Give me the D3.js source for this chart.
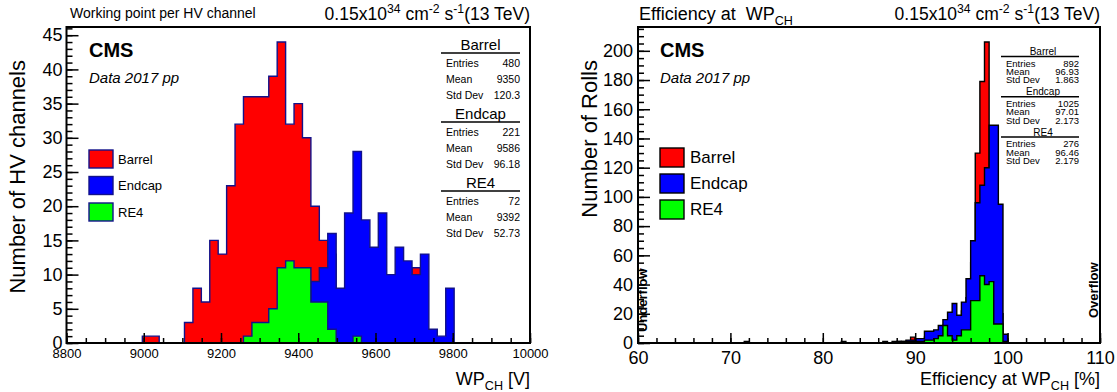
<!DOCTYPE html>
<html>
<head>
<meta charset="utf-8">
<script src="https://cdn.jsdelivr.net/npm/d3@7"></script>
<style>
  body { margin: 0; background: #fff; }
  svg text { font-family: 'Liberation Sans', Arial, Helvetica, sans-serif; white-space: pre; }
</style>
</head>
<body>
<svg id="chart" width="1117" height="392"></svg>
<script>
// ---- data: working point per HV channel (55 bins, 8800-10000 V) ----
const wpRange = [8800, 10000];
const wpNBins = 55;
const wpBarrel = [
  0, 0, 0, 0, 0, 0, 0, 0, 0, 1, 1,
  0, 0, 0, 3, 8, 6, 15, 13, 23, 32, 36,
  36, 36, 39, 44, 32, 35, 30, 20, 15, 13, 7,
  8, 6, 4, 3, 1, 1, 0, 1, 11, 0, 0,
  0, 0, 0, 0, 0, 0, 0, 0, 0, 0, 0
];
const wpEndcap = [
  0, 0, 0, 0, 0, 0, 0, 0, 0, 0, 0,
  0, 0, 0, 0, 0, 0, 0, 0, 0, 0, 0,
  0, 0, 0, 1, 2, 2, 4, 9, 11, 16, 8,
  19, 28, 18, 14, 19, 10, 14, 12, 10, 13, 2,
  1, 8, 0, 0, 0, 0, 0, 0, 0, 0, 0
];
const wpRE4 = [
  0, 0, 0, 0, 0, 0, 0, 0, 0, 0, 0,
  0, 0, 0, 0, 0, 0, 0, 0, 0, 0, 1,
  3, 3, 5, 11, 12, 11, 11, 6, 6, 2, 0,
  0, 1, 0, 0, 0, 0, 0, 0, 0, 0, 0,
  0, 0, 0, 0, 0, 0, 0, 0, 0, 0, 0
];
const wpXTicks = [8800, 9000, 9200, 9400, 9600, 9800, 10000];
const wpYTicks = [0, 5, 10, 15, 20, 25, 30, 35, 40, 45];

// ---- data: efficiency at WP (bins of 0.5 %, listed from 70 to 100 %) ----
const effRange = [60, 110];
const effFirstBin = 70;
const effBinWidth = 0.5;
const effBarrel = [
  0, 0, 0, 0, 0, 0, 0, 0, 0, 0,
  0, 0, 0, 0, 0, 0, 0, 0, 0, 0,
  0, 0, 0, 0, 0, 0, 0, 0, 0, 0,
  0, 0, 0, 0, 0, 0, 1, 0, 1, 4,
  2, 2, 4, 5, 6, 8, 10, 12, 15, 17,
  22, 31, 55, 130, 179, 206, 100, 60, 20, 2
];
const effEndcap = [
  0, 0, 0, 1, 0, 0, 0, 0, 0, 0,
  0, 0, 0, 0, 0, 0, 0, 0, 0, 0,
  0, 0, 0, 0, 1, 0, 0, 0, 0, 0,
  0, 0, 0, 1, 0, 1, 1, 1, 2, 2,
  3, 3, 8, 8, 9, 12, 16, 21, 27, 19,
  28, 44, 70, 96, 108, 120, 149, 149, 95, 6
];
const effRE4 = [
  0, 0, 0, 0, 0, 0, 0, 0, 0, 0,
  0, 0, 0, 0, 0, 0, 0, 0, 0, 0,
  0, 0, 0, 0, 0, 0, 0, 0, 0, 0,
  0, 0, 0, 0, 0, 0, 0, 1, 1, 1,
  1, 1, 2, 2, 3, 5, 12, 5, 2, 5,
  9, 9, 29, 29, 46, 40, 42, 13, 13, 1
];
const effXTicks = [60, 70, 80, 90, 100, 110];
const effYTicks = [0, 20, 40, 60, 80, 100, 120, 140, 160, 180, 200];

// ---- legend / stats text ----
const seriesNames = ['Barrel', 'Endcap', 'RE4'];
const seriesColors = ['#ff0000', '#0000ff', '#00ff00'];
const statLabels = ['Entries', 'Mean', 'Std Dev'];
const wpStatBarrel = ['480', '9350', '120.3'];
const wpStatEndcap = ['221', '9586', '96.18'];
const wpStatRE4 = ['72', '9392', '52.73'];
const effStatBarrel = ['892', '96.93', '1.863'];
const effStatEndcap = ['1025', '97.01', '2.173'];
const effStatRE4 = ['276', '96.46', '2.179'];

const svg = d3.select('#chart');

// text with sub/superscripts: parts = [[text, 'sup'|'sub'|null], ...]
function rich(el, parts, size) {
  let shift = 0;
  parts.forEach(([t, kind]) => {
    const target = kind === 'sup' ? -0.4 * size : kind === 'sub' ? 0.28 * size : 0;
    el.append('tspan')
      .attr('dy', target - shift)
      .attr('font-size', kind ? size * 0.7 : size)
      .text(t);
    shift = target;
  });
  return el;
}

function stepPoints(lo, width, counts, domain) {
  const pts = [[domain[0], 0], [lo, 0]];
  counts.forEach((c, i) => {
    pts.push([lo + i * width, c], [lo + (i + 1) * width, c]);
  });
  pts.push([lo + counts.length * width, 0], [domain[1], 0]);
  return pts;
}

function drawPanel(p) {
  const g = svg.append('g');
  const x = d3.scaleLinear().domain(p.xDomain).range([p.left, p.right]);
  const yMax = 1.05 * d3.max(p.series, s => d3.max(s));
  const y = d3.scaleLinear().domain([0, yMax]).range([p.bottom, p.top]);
  const line = d3.line().x(d => x(d[0])).y(d => y(d[1]));

  // histograms overlaid in order barrel, endcap, RE4
  p.series.forEach((counts, i) => {
    g.append('path')
      .attr('d', line(stepPoints(p.binLo, p.binWidth, counts, p.xDomain)) + 'Z')
      .attr('fill', seriesColors[i])
      .attr('stroke', p.lineColor)
      .attr('stroke-width', 1.4);
  });

  // axes (ticks inside the frame)
  const fix = a => a.call(s => s.select('.domain').remove())
    .attr('font-family', null).attr('color', '#000');
  const xMinor = d3.range(p.xDomain[0], p.xDomain[1] + 1e-9, p.xMinorStep);
  const yMinor = d3.range(0, yMax, p.yMinorStep);

  g.append('g').attr('transform', `translate(0,${p.bottom})`)
    .call(d3.axisBottom(x).tickValues(xMinor).tickSize(-5).tickFormat(''))
    .call(fix).selectAll('line').attr('stroke-width', 1.5);
  g.append('g').attr('transform', `translate(0,${p.bottom})`)
    .call(d3.axisBottom(x).tickValues(p.xTicks).tickSize(-10).tickPadding(p.xPad).tickFormat(d3.format('d')))
    .call(fix).attr('font-size', p.xFont)
    .selectAll('line').attr('stroke-width', 1.5);

  g.append('g').attr('transform', `translate(${p.left},0)`)
    .call(d3.axisLeft(y).tickValues(yMinor).tickSize(-6).tickFormat(''))
    .call(fix).selectAll('line').attr('stroke-width', 1.5);
  g.append('g').attr('transform', `translate(${p.left},0)`)
    .call(d3.axisLeft(y).tickValues(p.yTicks).tickSize(-12).tickPadding(p.yPad).tickFormat(d3.format('d')))
    .call(fix).attr('font-size', p.yFont)
    .selectAll('line').attr('stroke-width', 1.5);

  // frame
  g.append('rect')
    .attr('x', p.left).attr('y', p.top)
    .attr('width', p.right - p.left).attr('height', p.bottom - p.top)
    .attr('fill', 'none').attr('stroke', '#000').attr('stroke-width', 2);

  // axis titles
  rich(g.append('text').attr('x', p.right).attr('y', 385).attr('text-anchor', 'end'), p.xTitle, 18);
  g.append('text')
    .attr('transform', `translate(${p.yTitleX},60) rotate(-90)`)
    .attr('text-anchor', 'end').attr('font-size', 22)
    .text(p.yTitle);

  // top texts
  rich(g.append('text').attr('x', p.titleX).attr('y', p.titleY), p.title, p.titleFont);
  rich(g.append('text').attr('x', p.right).attr('y', 20).attr('text-anchor', 'end'),
    [['0.15x10'], ['34', 'sup'], [' cm'], ['-2', 'sup'], [' s'], ['-1', 'sup'], ['(13 TeV)']], 17.5);

  // CMS label
  g.append('text').attr('x', p.cmsX).attr('y', 57)
    .attr('font-size', 20).attr('font-weight', 'bold').text('CMS');
  g.append('text').attr('x', p.cmsX).attr('y', 83)
    .attr('font-size', 15).attr('font-style', 'italic').text('Data 2017 pp');

  // legend
  seriesNames.forEach((name, i) => {
    const top = p.legTop + i * p.legStep;
    g.append('rect')
      .attr('x', p.cmsX).attr('y', top).attr('width', 24).attr('height', p.legBox)
      .attr('fill', seriesColors[i]).attr('stroke', p.lineColor).attr('stroke-width', 1.4);
    g.append('text')
      .attr('x', p.cmsX + p.legTextDx).attr('y', top + p.legBox / 2 + p.legFont * 0.35)
      .attr('font-size', p.legFont).text(name);
  });

  // stats boxes
  p.stats.forEach((vals, i) => {
    const s = p.st;
    const by = s.top + i * s.step;
    g.append('text')
      .attr('x', s.cx).attr('y', by).attr('text-anchor', 'middle')
      .attr('font-size', s.headFont).text(seriesNames[i]);
    g.append('line')
      .attr('x1', s.x0).attr('x2', s.x1).attr('y1', by + s.lineDy).attr('y2', by + s.lineDy)
      .attr('stroke', '#000').attr('stroke-width', 1.5);
    statLabels.forEach((lab, j) => {
      const ry = by + s.rowDy + j * s.rowStep;
      g.append('text').attr('x', s.x0 + 5).attr('y', ry).attr('font-size', s.rowFont).text(lab);
      g.append('text').attr('x', s.x1).attr('y', ry).attr('text-anchor', 'end')
        .attr('font-size', s.rowFont).text(vals[j]);
    });
  });

  return { g, x, y };
}

drawPanel({
  xDomain: wpRange, binLo: wpRange[0], binWidth: (wpRange[1] - wpRange[0]) / wpNBins,
  series: [wpBarrel, wpEndcap, wpRE4], lineColor: '#12128a',
  left: 66.5, right: 530, top: 27, bottom: 343,
  xTicks: wpXTicks, yTicks: wpYTicks, xMinorStep: 50, yMinorStep: 1,
  xFont: 13, xPad: 6, yFont: 18, yPad: 4,
  xTitle: [['WP'], ['CH', 'sub'], [' [V]']], yTitle: 'Number of HV channels', yTitleX: 25,
  title: [['Working point per HV channel']], titleX: 70, titleY: 18, titleFont: 14,
  cmsX: 89, legTop: 150, legStep: 26.5, legBox: 18, legFont: 13, legTextDx: 29,
  stats: [wpStatBarrel, wpStatEndcap, wpStatRE4],
  st: { cx: 480.5, x0: 441, x1: 520, top: 50, step: 69, lineDy: 3, rowDy: 17, rowStep: 16, headFont: 15, rowFont: 10.5 }
});

drawPanel({
  xDomain: effRange, binLo: effFirstBin, binWidth: effBinWidth,
  series: [effBarrel, effEndcap, effRE4], lineColor: '#000',
  left: 638, right: 1100, top: 27, bottom: 343,
  xTicks: effXTicks, yTicks: effYTicks, xMinorStep: 2, yMinorStep: 5,
  xFont: 18, xPad: 8, yFont: 18, yPad: 5,
  xTitle: [['Efficiency at WP'], ['CH', 'sub'], [' [%]']], yTitle: 'Number of Rolls', yTitleX: 597,
  title: [['Efficiency at  WP'], ['CH', 'sub']], titleX: 639, titleY: 20, titleFont: 18,
  cmsX: 660, legTop: 148, legStep: 26, legBox: 19, legFont: 17, legTextDx: 30,
  stats: [effStatBarrel, effStatEndcap, effStatRE4],
  st: { cx: 1043, x0: 1001, x1: 1079, top: 55, step: 40.3, lineDy: 1.5, rowDy: 11.5, rowStep: 8.4, headFont: 10, rowFont: 9.5 }
});

// under/overflow markers on the efficiency plot
svg.append('text').attr('transform', 'translate(647,332) rotate(-90)')
  .attr('font-size', 13).attr('font-weight', 'bold').text('Underflow');
svg.append('text').attr('transform', 'translate(1098,318) rotate(-90)')
  .attr('font-size', 13).attr('font-weight', 'bold').text('Overflow');
</script>
</body>
</html>
